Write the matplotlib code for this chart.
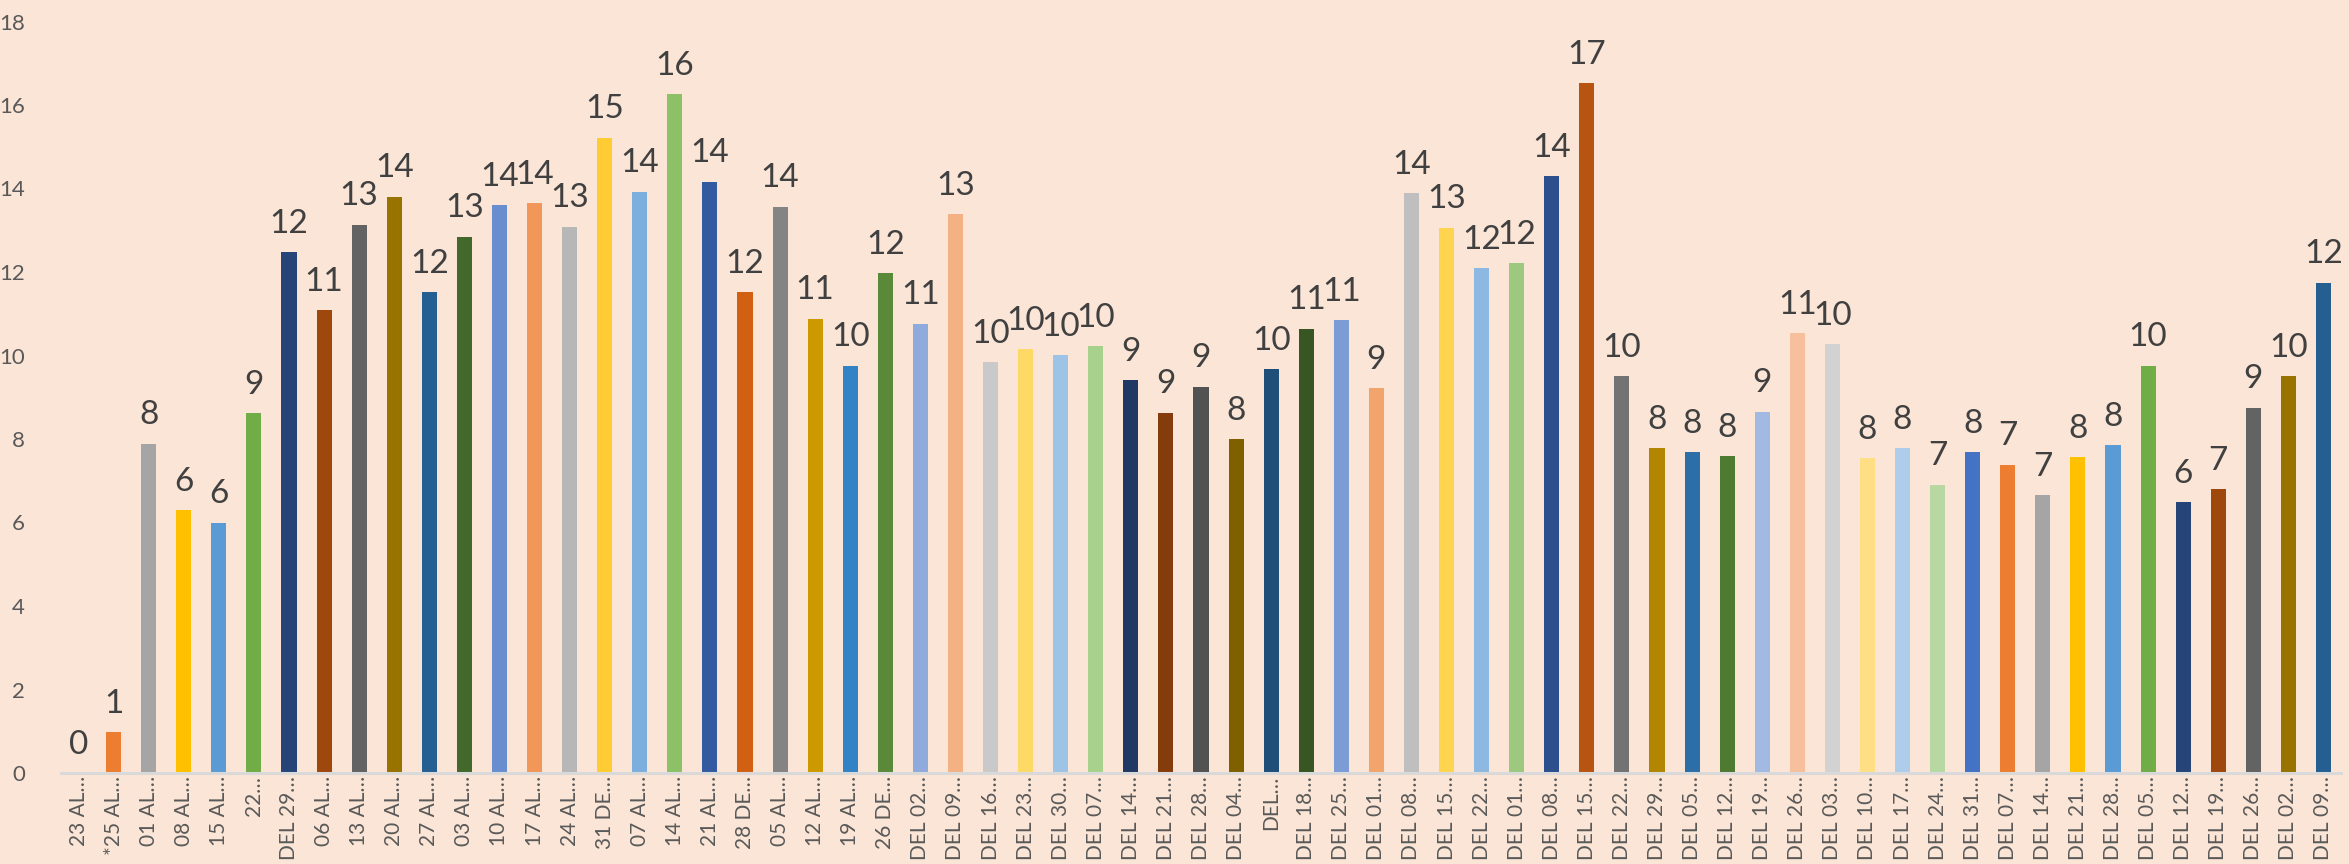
import matplotlib
matplotlib.use("Agg")
import matplotlib.pyplot as plt
import numpy as np

categories = [
    "23 AL…", "*25 AL…", "01 AL…", "08 AL…", "15 AL…", "22…", "DEL 29…", "06 AL…", "13 AL…", "20 AL…",
    "27 AL…", "03 AL…", "10 AL…", "17 AL…", "24 AL…", "31 DE…", "07 AL…", "14 AL…", "21 AL…", "28 DE…",
    "05 AL…", "12 AL…", "19 AL…", "26 DE…", "DEL 02…", "DEL 09…", "DEL 16…", "DEL 23…", "DEL 30…", "DEL 07…",
    "DEL 14…", "DEL 21…", "DEL 28…", "DEL 04…", "DEL…", "DEL 18…", "DEL 25…", "DEL 01…", "DEL 08…", "DEL 15…",
    "DEL 22…", "DEL 01…", "DEL 08…", "DEL 15…", "DEL 22…", "DEL 29…", "DEL 05…", "DEL 12…", "DEL 19…", "DEL 26…",
    "DEL 03…", "DEL 10…", "DEL 17…", "DEL 24…", "DEL 31…", "DEL 07…", "DEL 14…", "DEL 21…", "DEL 28…", "DEL 05…",
    "DEL 12…", "DEL 19…", "DEL 26…", "DEL 02…", "DEL 09…",
]

values = [
    0.0, 0.98, 7.89, 6.30, 5.99, 8.62, 12.48, 11.09, 13.13, 13.80,
    11.52, 12.84, 13.60, 13.65, 13.08, 15.22, 13.92, 16.26, 14.16, 11.52,
    13.56, 10.88, 9.75, 11.97, 10.76, 13.39, 9.84, 10.15, 10.01, 10.22,
    9.41, 8.63, 9.25, 8.00, 9.67, 10.64, 10.85, 9.22, 13.89, 13.06,
    12.09, 12.21, 14.30, 16.52, 9.51, 7.78, 7.68, 7.59, 8.65, 10.54,
    10.27, 7.54, 7.78, 6.90, 7.68, 7.38, 6.66, 7.57, 7.85, 9.75,
    6.49, 6.80, 8.75, 9.51, 11.74,
]

palette = [
    "#4472C4", "#ED7D31", "#A5A5A5", "#FFC000", "#5B9BD5", "#70AD47",
    "#264478", "#9E480E", "#636363", "#997300", "#255E91", "#43682B",
    "#698ED0", "#F1975A", "#B7B7B7", "#FFCD33", "#7CAFDD", "#8CC168",
    "#335AA1", "#D26012", "#848484", "#CC9A00", "#3282C6", "#5A8A39",
    "#8FAADC", "#F4B183", "#C9C9C9", "#FFD966", "#9DC3E6", "#A9D18E",
    "#203864", "#843C0C", "#525252", "#7F6000", "#1F4E79", "#375623",
    "#7C9CD6", "#F2A46D", "#BFBFBF", "#FFD54F", "#8DB8E1", "#9DC880",
    "#2E4F8D", "#B85412", "#737373", "#B28600", "#2B6EA8", "#4E7A31",
    "#A2B9E2", "#F7BF9C", "#D2D2D2", "#FFDF85", "#ADCDEA", "#B8D8A3",
]

bg = "#FBE5D6"
plt.rcParams['font.family'] = ['Lato', 'DejaVu Sans']

fig = plt.figure(figsize=(23.49, 8.64), dpi=100, facecolor=bg)
ax = fig.add_axes([61/2349, 1 - 773/864, (2341-61)/2349, (773-21.5)/864])
ax.set_facecolor(bg)

x = np.arange(len(values))
colors = [palette[i % len(palette)] for i in range(len(values))]
ax.bar(x, values, width=0.43, color=colors, zorder=2)

for xi, v in zip(x, values):
    ax.annotate(f"{int(np.floor(v + 0.5))}", xy=(xi, v), xytext=(0, 14), textcoords="offset points",
                ha="center", va="baseline", fontsize=24, color="#404040")

ax.set_xlim(-0.5, len(values) - 0.5)
ax.set_ylim(0, 18)
ax.set_yticks(np.arange(0, 19, 2))
ax.set_xticks(x)
ax.set_xticklabels(categories, rotation=90, fontsize=15, color="#595959")
ax.tick_params(axis="x", length=0, pad=2)
ax.tick_params(axis="y", length=0, pad=26, labelsize=16, labelcolor="#595959")

for s in ["top", "right", "left"]:
    ax.spines[s].set_visible(False)
ax.spines["bottom"].set_color("#D9D9D9")
ax.spines["bottom"].set_linewidth(2.2)

fig.savefig("out.png", dpi=100, facecolor=bg)
